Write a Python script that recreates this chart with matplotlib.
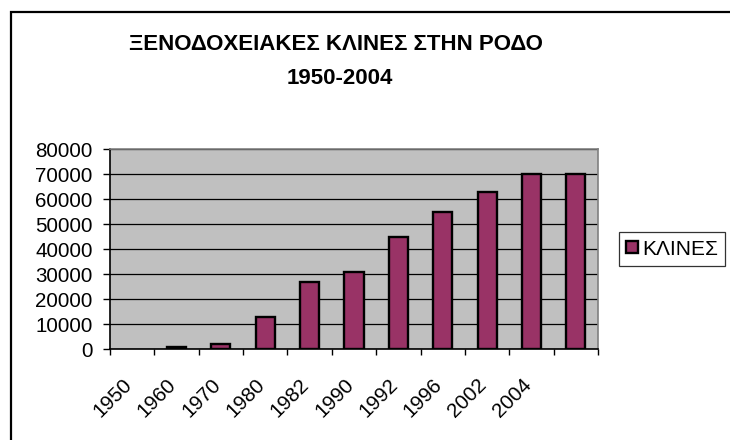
import matplotlib
matplotlib.use("Agg")
import matplotlib.pyplot as plt
import matplotlib.transforms as mtransforms
from matplotlib.patches import Rectangle

plt.rcParams['font.family'] = ['Liberation Sans', 'DejaVu Sans']

# ---- data ----
categories = ['1950', '1960', '1970', '1980', '1982', '1990', '1992', '1996', '2002', '2004', '']
beds = [0, 1000, 2000, 13000, 27000, 31000, 45000, 55000, 63000, 70000, 70000]
series_name = 'ΚΛΙΝΕΣ'
title_line1 = 'ΞΕΝΟΔΟΧΕΙΑΚΕΣ ΚΛΙΝΕΣ ΣΤΗΝ ΡΟΔΟ'
title_line2 = '1950-2004'
yticks = [0, 10000, 20000, 30000, 40000, 50000, 60000, 70000, 80000]

W, H = 730, 440
fig = plt.figure(figsize=(W / 100, H / 100), dpi=100)
fig.patch.set_facecolor('white')

ax = fig.add_axes([110 / W, 1 - 349.3 / H, 488 / W, 200 / H])
ax.set_facecolor('#C0C0C0')

x = [i for i, v in enumerate(beds) if v > 0]
h = [v for v in beds if v > 0]
bars = ax.bar(x, h, width=0.43, color='#993366', edgecolor='black',
              linewidth=1.7, zorder=3, label=series_name)

ax.set_xlim(-0.5, len(categories) - 0.5)
ax.set_ylim(0, 80000)
ax.set_yticks(yticks)
ax.set_yticklabels([str(v) for v in yticks])
ax.yaxis.grid(True, color='black', linewidth=0.9, zorder=1)
ax.set_axisbelow(True)

# category boundary ticks
ax.set_xticks([i - 0.5 for i in range(len(categories) + 1)])
ax.set_xticklabels([])
ax.tick_params(axis='x', direction='out', length=4.5, width=1, color='black')
ax.tick_params(axis='y', direction='out', length=5, width=1, color='black',
               pad=7.5, labelsize=14.8)

for side in ['top', 'right']:
    ax.spines[side].set_color('#808080')
    ax.spines[side].set_linewidth(1.2)
for side in ['left', 'bottom']:
    ax.spines[side].set_color('black')
    ax.spines[side].set_linewidth(1.2)

# rotated category labels
trans = mtransforms.blended_transform_factory(ax.transData, ax.transAxes)
off = mtransforms.ScaledTranslation(-0.10, -0.26, fig.dpi_scale_trans)
for i, lab in enumerate(categories):
    if lab:
        ax.text(i, 0, lab, transform=trans + off, rotation=45,
                rotation_mode='anchor', ha='right', va='top', fontsize=14.8)

# title
fig.text(336 / W, 1 - 45 / H, title_line1, ha='center', va='center',
         fontsize=16, fontweight='bold')
fig.text(340 / W, 1 - 78 / H, title_line2, ha='center', va='center',
         fontsize=16, fontweight='bold')

# legend
leg = ax.legend(handles=[bars], labels=[series_name], loc='center left',
                bbox_to_anchor=(619 / W, 1 - 249 / H),
                bbox_transform=fig.transFigure, fontsize=15,
                frameon=True, fancybox=False, borderaxespad=0,
                handlelength=0.55, handleheight=0.55, handletextpad=0.2,
                borderpad=0.35)
leg.get_frame().set_edgecolor('black')
leg.get_frame().set_linewidth(0.9)

# chart area border
fig.patches.append(Rectangle((11 / W, -0.2), 1.2, 1.2 - 12 / H,
                             transform=fig.transFigure, fill=False,
                             edgecolor='black', linewidth=1.6))

fig.savefig('out.png', dpi=100, facecolor='white')
